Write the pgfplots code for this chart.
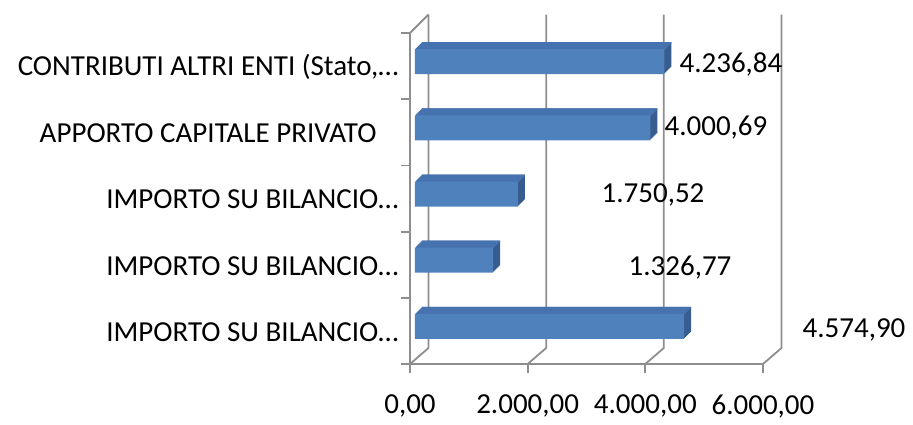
\documentclass[border=0pt]{standalone}
\usepackage{pgfplots}
\pgfplotsset{compat=1.18}
\usepackage{pgfplotstable}
\usepackage{fontspec}
\setmainfont{Carlito}
\newcommand\lbl{\fontsize{29}{34}\selectfont}
\definecolor{barfront}{HTML}{4F81BD}
\definecolor{bartop}{HTML}{4673B0}
\definecolor{barside}{HTML}{375C8F}
\definecolor{linegray}{HTML}{8E8E8E}

\pgfplotstableread{
y v
1 4574.90
2 1326.77
3 1750.52
4 4000.69
5 4236.84
}\bardata

\pgfplotstableread{
x y lab
5456 5.03 4.236,84
5201 4.065 4.000,69
4131 3.053 1.750,52
4590 1.95 1.326,77
7547 1.014 4.574,90
}\labdata

\begin{document}
\begin{tikzpicture}
\useasboundingbox (0,0) rectangle (913pt,424pt);
\begin{axis}[
  at={(410pt,60pt)}, anchor=south west,
  scale only axis, width=353pt, height=331pt,
  xmin=0, xmax=6000, ymin=0.5, ymax=5.5,
  clip=false,
  axis x line*=bottom, axis y line*=left,
  axis line style={draw=linegray, line width=1.8pt},
  tick style={draw=linegray, line width=1.8pt},
  tick align=outside,
  major tick length=9pt,
  xtick={0,2000,4000,6000},
  ytick={0.5,1.5,...,5.5},
  yticklabels={},
  extra y ticks={1,2,3,4,5},
  extra y tick labels={IMPORTO SU BILANCIO…, IMPORTO SU BILANCIO…, IMPORTO SU BILANCIO…, APPORTO CAPITALE PRIVATO\hspace*{22pt}, {CONTRIBUTI ALTRI ENTI (Stato,…}},
  extra y tick style={major tick length=0pt, yticklabel style={xshift=-8pt, yshift=-1pt}},
  tick label style={font=\lbl, text=black},
  /pgf/number format/assume math mode=true,
  xticklabel style={yshift=-18pt, /pgf/number format/.cd, fixed, fixed zerofill, precision=2, use comma, 1000 sep={.}},
]
\pgfplotsinvokeforeach{0,2000,4000,6000}{
  \draw[linegray, line width=1.8pt, line join=round]
    (axis cs:#1,0.5) -- ([xshift=18.5pt,yshift=16pt]axis cs:#1,0.5)
    -- ([xshift=18.5pt,yshift=18.5pt]axis cs:#1,5.5);
}
\draw[linegray, line width=1.8pt] (axis cs:0,5.5) -- ([xshift=18.5pt,yshift=18.5pt]axis cs:0,5.5);

\pgfplotsinvokeforeach{1,...,7}{
  \addplot[xbar, bar width=25pt, fill=barside, draw=none, xshift=5pt+#1pt, yshift=4.5pt+#1pt] table[x=v,y=y] {\bardata};
}
\pgfplotsinvokeforeach{1,...,7}{
  \addplot[xbar, bar width=1.5pt, bar shift=11.75pt, fill=bartop, draw=none, xshift=5pt+#1pt, yshift=4.5pt+#1pt] table[x=v,y=y] {\bardata};
}
\addplot[xbar, bar width=25pt, fill=barfront, draw=none, xshift=5pt, yshift=4.5pt] table[x=v,y=y] {\bardata};

\addplot[draw=none, nodes near coords, point meta=explicit symbolic,
  every node near coord/.style={anchor=center, font=\lbl, text=black}]
  table[x=x,y=y,meta=lab] {\labdata};
\end{axis}
\end{tikzpicture}
\end{document}
